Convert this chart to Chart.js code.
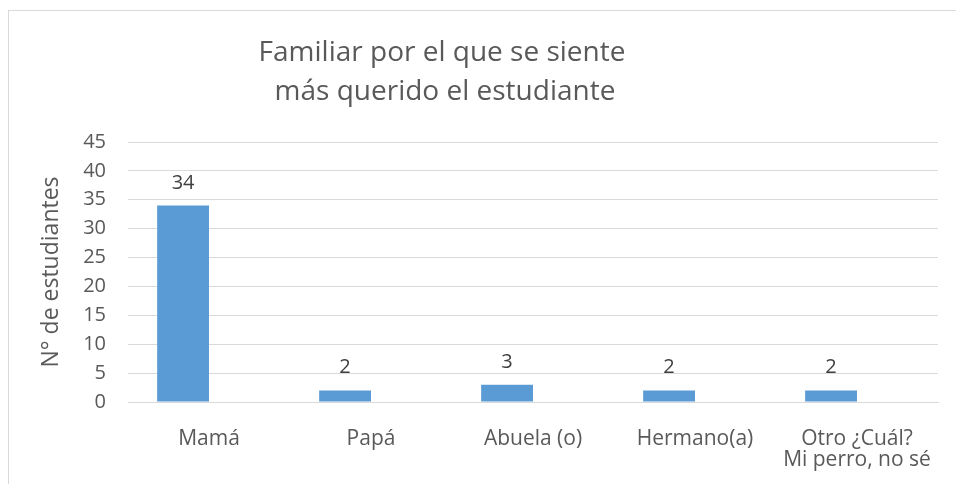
<!DOCTYPE html>
<html><head><meta charset="utf-8">
<script src="https://cdn.jsdelivr.net/npm/chart.js@4/dist/chart.umd.min.js"></script>
<style>html,body{margin:0;padding:0;background:#fff;}#wrap{width:956px;height:484px;position:relative;}</style>
</head><body><div id="wrap"><canvas id="c" width="956" height="484"></canvas></div>
<script>
const categories = ['Mamá', 'Papá', 'Abuela (o)', 'Hermano(a)', ['Otro ¿Cuál?', 'Mi perro, no sé']];
const valores = [34, 2, 3, 2, 2];
const serieVacia = [null, null, null, null, null];
const yMin = 0, yMax = 45, yStep = 5;
const titleLines = ['Familiar por el que se siente', 'más querido el estudiante'];
const yTitle = 'N° de estudiantes';

const FONT = '"Open Sans", "Noto Sans", sans-serif';
const GREY = '#595959';

const framePlugin = {
  id: 'frameTitle',
  beforeDraw(chart) {
    const ctx = chart.ctx;
    ctx.save();
    ctx.fillStyle = '#fff';
    ctx.fillRect(0, 0, chart.width, chart.height);
    ctx.strokeStyle = '#d9d9d9';
    ctx.lineWidth = 1;
    ctx.strokeRect(8.5, 10.5, 1200, 1200);
    ctx.fillStyle = GREY;
    ctx.font = '28px ' + FONT;
    ctx.textAlign = 'center';
    ctx.textBaseline = 'alphabetic';
    ctx.fillText(titleLines[0], 442, 61);
    ctx.fillText(titleLines[1], 445, 100);
    ctx.restore();
  }
};

const labelPlugin = {
  id: 'valueLabels',
  afterDatasetsDraw(chart) {
    const ctx = chart.ctx;
    const meta = chart.getDatasetMeta(0);
    ctx.save();
    ctx.fillStyle = '#404040';
    ctx.font = '20px ' + FONT;
    ctx.textAlign = 'center';
    ctx.textBaseline = 'alphabetic';
    meta.data.forEach((bar, i) => {
      const v = valores[i];
      if (v == null) return;
      ctx.fillText(String(v), bar.x, bar.y - 17);
    });
    ctx.restore();
  }
};

new Chart(document.getElementById('c'), {
  type: 'bar',
  data: {
    labels: categories,
    datasets: [
      { label: 'Serie 1', data: valores, backgroundColor: '#5b9bd5', borderWidth: 0, categoryPercentage: 0.64, barPercentage: 1.0 },
      { label: 'Serie 2', data: serieVacia, backgroundColor: '#ed7d31', borderWidth: 0, categoryPercentage: 0.64, barPercentage: 1.0 }
    ]
  },
  options: {
    responsive: false,
    animation: false,
    devicePixelRatio: 1,
    layout: { padding: { left: 34, right: 18, top: 142, bottom: 0 } },
    plugins: { legend: { display: false }, title: { display: false }, tooltip: { enabled: false } },
    scales: {
      x: {
        grid: { display: false },
        border: { display: true, color: '#d9d9d9', width: 1 },
        ticks: { color: GREY, font: { family: FONT, size: 21, lineHeight: 1.0 }, padding: 19, maxRotation: 0, autoSkip: false },
        afterFit(s) { s.height = 82; }
      },
      y: {
        min: yMin, max: yMax,
        ticks: { stepSize: yStep, color: GREY, font: { family: FONT, size: 20 }, padding: 22 },
        grid: { color: '#d9d9d9', drawTicks: false, lineWidth: 1 },
        border: { display: false },
        title: { display: true, text: yTitle, color: GREY, font: { family: FONT, size: 23 }, padding: { top: 4, bottom: 4 } },
        afterFit(s) { s.width = 94; }
      }
    }
  },
  plugins: [framePlugin, labelPlugin]
});
</script>
</body></html>
